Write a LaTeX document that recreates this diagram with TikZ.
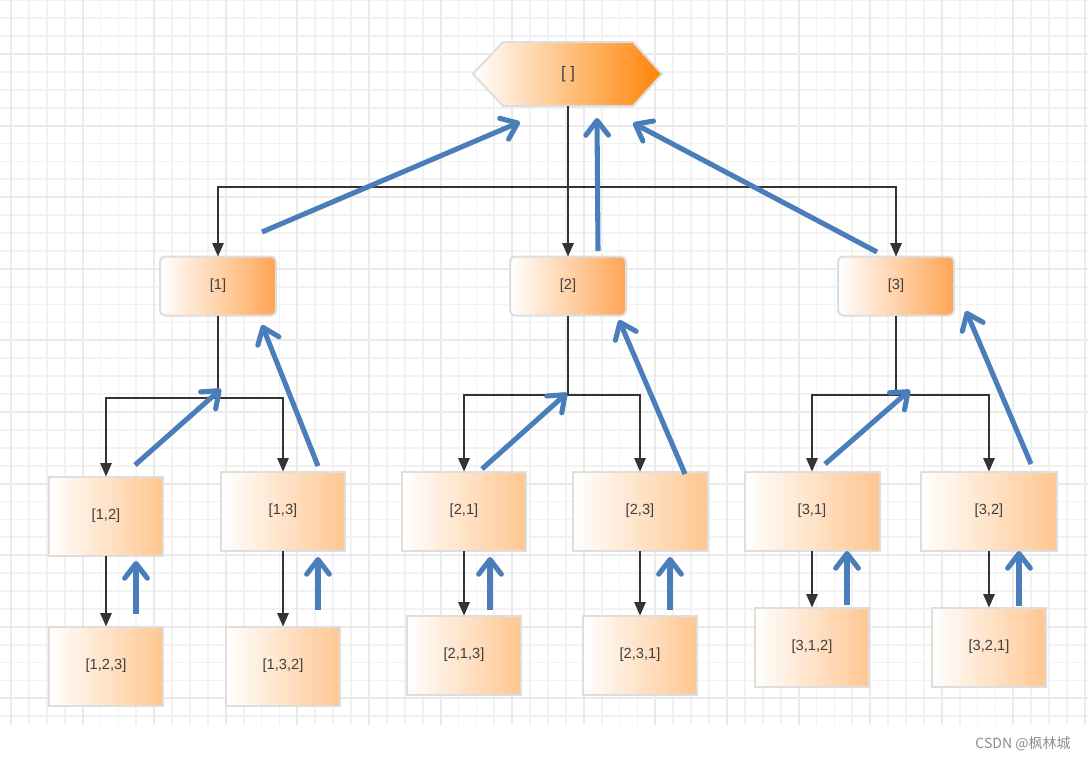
\documentclass[tikz,border=0pt]{standalone}
\usepackage{fontspec}
\setmainfont{Liberation Sans}
\newfontfamily\cjkfont{Noto Sans CJK SC}
\usetikzlibrary{arrows.meta}
\definecolor{gridminor}{HTML}{F2F2F2}
\definecolor{gridmajor}{HTML}{EAEAEA}
\definecolor{boxline}{HTML}{DEDEDE}
\definecolor{boxlight}{HTML}{FFC690}
\definecolor{boxmid}{HTML}{FFA555}
\definecolor{boxdeep}{HTML}{FF8304}
\definecolor{textgray}{HTML}{404040}
\definecolor{linegray}{HTML}{333333}
\definecolor{backblue}{HTML}{4A7EBB}
\tikzset{
  box/.style={left color=white, right color=boxlight, draw=boxline, line width=1.5pt, outer sep=0pt, text=textgray, font=\fontsize{11}{13}\selectfont, minimum width=86pt, minimum height=59.25pt, inner sep=0pt},
  topbox/.style={box, right color=boxmid, rounded corners=3.75pt, minimum width=87pt, minimum height=44.25pt},
  conn/.style={draw=linegray, line width=1.2pt, -{Triangle[length=10pt,width=8.5pt]}},
  back/.style={draw=backblue, line width=3.8pt, -{Straight Barb[length=11pt,width=17pt,round]}},
}
\begin{document}
\begin{tikzpicture}[x=0.75pt, y=-0.75pt]
\useasboundingbox (0,0) rectangle (1088,760);
\fill[white] (0,0) rectangle (1088,760);
\foreach \k in {0,...,60} \draw[gridminor, line width=1.3pt] ({11+\k*17.9},0) -- ({11+\k*17.9},725);
\foreach \k in {0,...,40} \draw[gridminor, line width=1.3pt] (0,{0.3+\k*17.9}) -- (1088,{0.3+\k*17.9});
\foreach \k in {0,4,...,60} \draw[gridmajor, line width=1.6pt] ({11+\k*17.9},0) -- ({11+\k*17.9},725);
\foreach \k in {3,7,...,39} \draw[gridmajor, line width=1.6pt] (0,{0.3+\k*17.9}) -- (1088,{0.3+\k*17.9});
\shade[left color=white, right color=boxdeep, draw=boxline, line width=1.5pt] (473,74) -- (503,42) -- (633,42) -- (662,74) -- (633,106) -- (503,106) -- cycle;
\node[text=textgray, font=\fontsize{12.5}{14}\selectfont, minimum width=141.75pt, minimum height=48pt, outer sep=0pt] (root) at (568,74) {[ ]};
\node[topbox] (n1) at (218,286) {[1]};
\node[topbox] (n2) at (568,286) {[2]};
\node[topbox] (n3) at (896,286) {[3]};
\node[box, minimum width=85.5pt] (n12) at (106,516) {[1,2]};
\node[box, minimum width=93pt] (n13) at (283,511) {[1,3]};
\node[box, minimum width=93pt] (n21) at (464,511) {[2,1]};
\node[box, minimum width=101.25pt] (n23) at (640,511) {[2,3]};
\node[box, minimum width=101.25pt] (n31) at (812,511) {[3,1]};
\node[box, minimum width=102pt] (n32) at (989,511) {[3,2]};
\node[box] (n123) at (106,666) {[1,2,3]};
\node[box] (n132) at (283,666) {[1,3,2]};
\node[box] (n213) at (464,655) {[2,1,3]};
\node[box] (n231) at (640,655) {[2,3,1]};
\node[box] (n312) at (812,647) {[3,1,2]};
\node[box] (n321) at (989,647) {[3,2,1]};
\coordinate (b0) at (568,187);
\coordinate (b1) at (218,398);
\coordinate (b2) at (568,395);
\coordinate (b3) at (896,395);
\draw[conn] (root.south) -- (n2.north);
\draw[conn] (b0) -| (n1.north);
\draw[conn] (b0) -| (n3.north);
\draw[conn] (n1.south) -- (b1) -| (n12.north);
\draw[conn] (b1) -| (n13.north);
\draw[conn] (n2.south) -- (b2) -| (n21.north);
\draw[conn] (b2) -| (n23.north);
\draw[conn] (n3.south) -- (b3) -| (n31.north);
\draw[conn] (b3) -| (n32.north);
\draw[conn] (n12) -- (n123);
\draw[conn] (n13) -- (n132);
\draw[conn] (n21) -- (n213);
\draw[conn] (n23) -- (n231);
\draw[conn] (n31) -- (n312);
\draw[conn] (n32) -- (n321);
\coordinate (up1a) at (262,232); \coordinate (up1b) at (520,122);
\coordinate (up2a) at (598,251); \coordinate (up2b) at (597,118);
\coordinate (up3a) at (877,252); \coordinate (up3b) at (633,123);
\coordinate (up12a) at (135,465); \coordinate (up12b) at (221,389);
\coordinate (up13a) at (318,466); \coordinate (up13b) at (262,325);
\coordinate (up21a) at (482,469); \coordinate (up21b) at (567,393);
\coordinate (up23a) at (685,474); \coordinate (up23b) at (619,320);
\coordinate (up31a) at (825,464); \coordinate (up31b) at (910,390);
\coordinate (up32a) at (1031,464); \coordinate (up32b) at (966,311);
\coordinate (up123a) at (136,614); \coordinate (up123b) at (136,561);
\coordinate (up132a) at (318,610); \coordinate (up132b) at (318,557);
\coordinate (up213a) at (490,610); \coordinate (up213b) at (490,557);
\coordinate (up231a) at (670,610); \coordinate (up231b) at (670,557);
\coordinate (up312a) at (847,605); \coordinate (up312b) at (847,551);
\coordinate (up321a) at (1019,606); \coordinate (up321b) at (1019,551);
\draw[back] (up1a) -- (up1b);
\draw[back] (up2a) -- (up2b);
\draw[back] (up3a) -- (up3b);
\draw[back] (up12a) -- (up12b);
\draw[back] (up13a) -- (up13b);
\draw[back] (up21a) -- (up21b);
\draw[back] (up23a) -- (up23b);
\draw[back] (up31a) -- (up31b);
\draw[back] (up32a) -- (up32b);
\draw[back] (up123a) -- (up123b);
\draw[back] (up132a) -- (up132b);
\draw[back] (up213a) -- (up213b);
\draw[back] (up231a) -- (up231b);
\draw[back] (up312a) -- (up312b);
\draw[back] (up321a) -- (up321b);
\node[text=black!45, font=\cjkfont\fontsize{10.5}{12}\selectfont] (mark) at (1023,744) {CSDN @枫林城};
\end{tikzpicture}
\end{document}
